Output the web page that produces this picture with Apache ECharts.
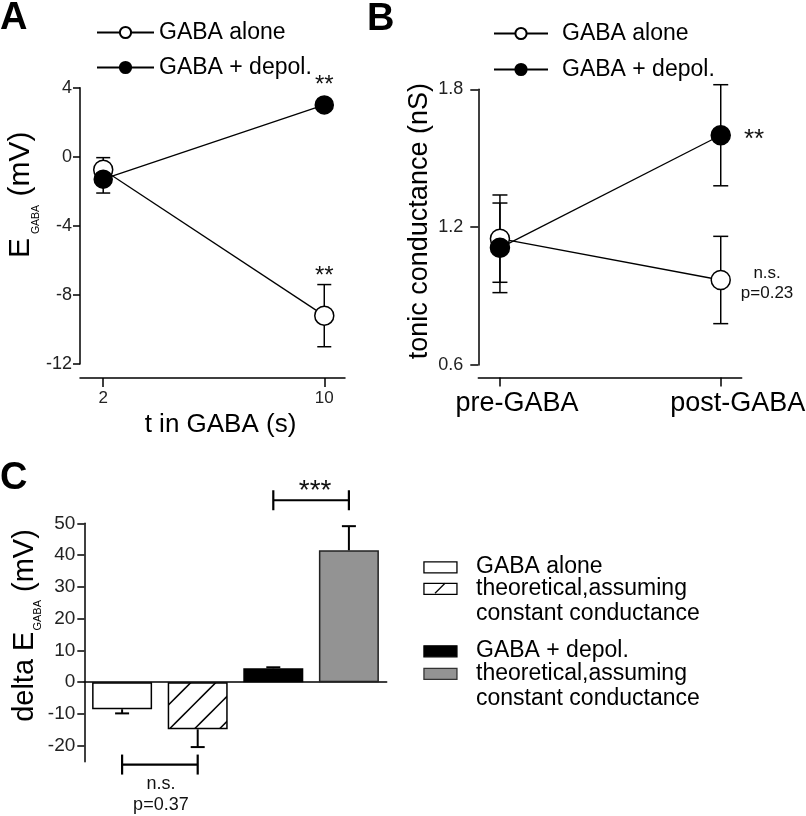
<!DOCTYPE html>
<html>
<head>
<meta charset="utf-8">
<script src="https://cdn.jsdelivr.net/npm/echarts@6/dist/echarts.min.js"></script>
<style>
html,body{margin:0;padding:0;background:#fff;}
#chart{width:806px;height:816px;}
</style>
</head>
<body>
<div id="chart"></div>
<script>
// ---------- Panel A data ----------
const timesA = [2, 10];
const xTicksA = [2, 10];
const aloneMeanA = [-0.75, -9.2];
const aloneSemA = [0.7, 1.8];
const depolMeanA = [-1.3, 3.0];
const depolSemA = [0.8, 0.3];
const starPosA = [[10, 4.13], [10, -6.91]];
const starTextA = ['**', '**'];

// ---------- Panel B data ----------
const conditionsB = ['pre-GABA', 'post-GABA'];
const condPosB = [0, 1];
const aloneMeanB = [1.15, 0.97];
const aloneSemB = [0.19, 0.19];
const depolMeanB = [1.11, 1.60];
const depolSemB = [0.195, 0.22];
const notePosB = [[1.151, 1.578], [1.21, 0.9575]];
const noteTextB = ['**', 'n.s.\np=0.23'];

// ---------- Panel C data ----------
const groupsC = ['GABA alone', 'theoretical (GABA alone)', 'GABA + depol.', 'theoretical (GABA + depol.)'];
const deltaMeanC = [-8.5, -14.8, 4.4, 41.5];
const deltaSemC = [1.3, 5.6, 0.3, 7.6];
const yTicksC = [-20, -10, 0, 10, 20, 30, 40, 50];
const bracketsC = [[0, 1, -25.9], [2, 3, 57.25]];
const bracketTextC = ['n.s.\np=0.37', '***'];
const legendTextC = ['GABA alone', 'theoretical,assuming\nconstant conductance', 'GABA + depol.', 'theoretical,assuming\nconstant conductance'];

const FONT = 'Liberation Sans, Arial, Helvetica, sans-serif';

// hatch pattern
function makeHatch() {
  const c = document.createElement('canvas');
  c.width = 25; c.height = 25;
  const ctx = c.getContext('2d');
  ctx.fillStyle = '#fff';
  ctx.fillRect(0, 0, 25, 25);
  ctx.strokeStyle = '#000';
  ctx.lineWidth = 1.5;
  for (let k = -1; k <= 1; k++) {
    const s = 23.4 + 25 * k;
    ctx.beginPath();
    ctx.moveTo(-5, s + 5);
    ctx.lineTo(s + 5, -5);
    ctx.stroke();
  }
  return c;
}
const hatch = { image: makeHatch(), repeat: 'repeat' };

const barStylesC = [
  { color: '#fff', borderColor: '#000', borderWidth: 1.5 },
  { color: hatch, borderColor: '#000', borderWidth: 1.5 },
  { color: '#000', borderColor: '#000', borderWidth: 1.5 },
  { color: '#939393', borderColor: '#222', borderWidth: 1.5 }
];

function errRender(capW, lw, capLow) {
  return function (params, api) {
    const x = api.value(0);
    const p1 = api.coord([x, api.value(1)]);
    const p2 = api.coord([x, api.value(2)]);
    const st = { stroke: '#000', lineWidth: lw, fill: null };
    const h = capW / 2;
    const ch = [
      { type: 'line', shape: { x1: p1[0], y1: p1[1], x2: p2[0], y2: p2[1] }, style: st },
      { type: 'line', shape: { x1: p2[0] - h, y1: p2[1], x2: p2[0] + h, y2: p2[1] }, style: st }
    ];
    if (capLow) ch.push({ type: 'line', shape: { x1: p1[0] - h, y1: p1[1], x2: p1[0] + h, y2: p1[1] }, style: st });
    return { type: 'group', children: ch };
  };
}
function textRender(texts, fontSize, lineHeight) {
  return function (params, api) {
    const p = api.coord([api.value(0), api.value(1)]);
    return {
      type: 'text', x: p[0], y: p[1],
      style: { text: texts[params.dataIndex], fontSize: fontSize, lineHeight: lineHeight, fontFamily: FONT, fill: '#111', align: 'center', verticalAlign: 'middle' }
    };
  };
}

const errA = [];
aloneMeanA.forEach((m, i) => errA.push([timesA[i], m - aloneSemA[i], m + aloneSemA[i]]));
depolMeanA.forEach((m, i) => errA.push([timesA[i], m - depolSemA[i], m + depolSemA[i]]));
const errB = [];
aloneMeanB.forEach((m, i) => errB.push([condPosB[i], m - aloneSemB[i], m + aloneSemB[i]]));
depolMeanB.forEach((m, i) => errB.push([condPosB[i], m - depolSemB[i], m + depolSemB[i]]));
const errC = deltaMeanC.map((m, i) => [i, m, m + Math.sign(m) * deltaSemC[i]]);

const axisLineStyle = { color: '#000', width: 1.5 };
const tickStyle = { color: '#000', width: 1.5 };

const openMarker = { color: '#fff', borderColor: '#000', borderWidth: 1.5 };
const filledMarker = { color: '#000', borderColor: '#000', borderWidth: 1.5 };
const connLine = { color: '#000', width: 1.3 };

const option = {
  animation: false,
  textStyle: { fontFamily: FONT, color: '#000' },
  title: [
    { text: 'A', left: 0, top: 0, padding: 0, textStyle: { fontSize: 38, fontWeight: 'bold', color: '#000', fontFamily: FONT } },
    { text: 'B', left: 367, top: 1, padding: 0, textStyle: { fontSize: 38, fontWeight: 'bold', color: '#000', fontFamily: FONT } },
    { text: 'C', left: 0, top: 460, padding: 0, textStyle: { fontSize: 38, fontWeight: 'bold', color: '#000', fontFamily: FONT } }
  ],
  legend: [
    {
      left: 96, top: 21, padding: 0, orient: 'vertical', itemWidth: 57, itemHeight: 14, itemGap: 12,
      selectedMode: false, data: ['GABA alone', 'GABA + depol.'],
      textStyle: { fontSize: 23, lineHeight: 22, color: '#000', fontFamily: FONT }
    },
    {
      left: 493, top: 22, padding: 0, orient: 'vertical', itemWidth: 54, itemHeight: 14, itemGap: 13,
      selectedMode: false, data: ['GABA alone', 'GABA + depol.'],
      formatter: n => '{p|}' + n,
      textStyle: { fontSize: 23, lineHeight: 22, color: '#000', fontFamily: FONT, rich: { p: { width: 9 } } }
    }
  ],
  grid: [
    { left: 80, top: 87.7, width: 265, height: 276.3 },
    { left: 478.3, top: 89.3, width: 263.4, height: 275.7 },
    { left: 84.3, top: 523.3, width: 302.4, height: 238.4 }
  ],
  xAxis: [
    {
      gridIndex: 0, type: 'value', min: 1.16, max: 10.75, offset: 14,
      axisLine: { onZero: false, lineStyle: axisLineStyle },
      axisTick: { customValues: xTicksA, length: 9, lineStyle: tickStyle },
      axisLabel: { customValues: xTicksA, margin: 12, fontSize: 17, color: '#222' },
      splitLine: { show: false },
      name: 't in GABA (s)', nameLocation: 'middle', nameGap: 34,
      nameTextStyle: { fontSize: 26, color: '#000', padding: [0, 0, 0, 16] }
    },
    {
      gridIndex: 1, type: 'value', min: -0.098, max: 1.095, offset: 12.4,
      axisLine: { onZero: false, lineStyle: axisLineStyle },
      axisTick: { customValues: condPosB, length: 9, lineStyle: tickStyle },
      axisLabel: { show: false },
      splitLine: { show: false }
    },
    {
      gridIndex: 2, type: 'category', data: groupsC,
      axisLine: { onZero: true, lineStyle: axisLineStyle },
      axisTick: { show: false }, axisLabel: { show: false }, splitLine: { show: false }
    }
  ],
  yAxis: [
    {
      gridIndex: 0, type: 'value', min: -12, max: 4, interval: 4,
      axisLine: { show: true, onZero: false, lineStyle: axisLineStyle },
      axisTick: { show: true, length: 7, lineStyle: tickStyle },
      axisLabel: { margin: 8, fontSize: 18, color: '#222' },
      splitLine: { show: false },
      name: '{e|E}{s|GABA}{e| (mV)}', nameLocation: 'middle', nameGap: 34,
      nameTextStyle: {
        fontSize: 30, color: '#000', padding: [0, 0, 0, 62],
        rich: {
          e: { fontSize: 30, verticalAlign: 'top', fontFamily: FONT, color: '#000' },
          s: { fontSize: 10.5, verticalAlign: 'top', padding: [25, 0, 0, 4], fontFamily: FONT, color: '#000' }
        }
      }
    },
    {
      gridIndex: 1, type: 'value', min: 0.6, max: 1.8, interval: 0.6,
      axisLine: { show: true, onZero: false, lineStyle: axisLineStyle },
      axisTick: { show: true, length: 8, lineStyle: tickStyle },
      axisLabel: { margin: 15, fontSize: 18, color: '#222', formatter: v => v.toFixed(1) },
      splitLine: { show: false },
      name: 'tonic conductance (nS)', nameLocation: 'middle', nameGap: 45,
      nameTextStyle: { fontSize: 27, color: '#000', padding: [0, 0, 0, 12] }
    },
    {
      gridIndex: 2, type: 'value', min: -25, max: 50,
      axisLine: { show: true, onZero: false, lineStyle: axisLineStyle },
      axisTick: { show: true, customValues: yTicksC, length: 7, lineStyle: tickStyle },
      axisLabel: { customValues: yTicksC, margin: 9, fontSize: 19, color: '#222' },
      splitLine: { show: false },
      name: '{t|delta E}{s|GABA}{t| (mV)}', nameLocation: 'middle', nameGap: 40,
      nameTextStyle: {
        fontSize: 29, color: '#000', padding: [0, 0, 0, 34],
        rich: {
          t: { fontSize: 29, verticalAlign: 'top', fontFamily: FONT, color: '#000' },
          s: { fontSize: 11, verticalAlign: 'top', padding: [22, 0, 0, 1], fontFamily: FONT, color: '#000' }
        }
      }
    }
  ],
  series: [
    // Panel A
    { type: 'custom', name: 'errA', xAxisIndex: 0, yAxisIndex: 0, data: errA, renderItem: errRender(14, 1.5, true), z: 1, silent: true },
    { type: 'line', name: 'GABA alone', xAxisIndex: 0, yAxisIndex: 0,
      data: timesA.map((t, i) => [t, aloneMeanA[i]]),
      symbol: 'circle', symbolSize: 19, itemStyle: openMarker, lineStyle: connLine, z: 3 },
    { type: 'line', name: 'GABA + depol.', xAxisIndex: 0, yAxisIndex: 0,
      data: timesA.map((t, i) => [t, depolMeanA[i]]),
      symbol: 'circle', symbolSize: 18, itemStyle: filledMarker, lineStyle: connLine, z: 4 },
    { type: 'custom', name: 'starsA', xAxisIndex: 0, yAxisIndex: 0, data: starPosA, renderItem: textRender(starTextA, 24, 24), z: 5, silent: true },
    // Panel B
    { type: 'custom', name: 'errB', xAxisIndex: 1, yAxisIndex: 1, data: errB, renderItem: errRender(15, 1.5, true), z: 1, silent: true },
    { type: 'line', name: 'GABA alone', xAxisIndex: 1, yAxisIndex: 1,
      data: condPosB.map((x, i) => [x, aloneMeanB[i]]),
      symbol: 'circle', symbolSize: 19, itemStyle: openMarker, lineStyle: connLine, z: 3 },
    { type: 'line', name: 'GABA + depol.', xAxisIndex: 1, yAxisIndex: 1,
      data: condPosB.map((x, i) => [x, depolMeanB[i]]),
      symbol: 'circle', symbolSize: 19, itemStyle: filledMarker, lineStyle: connLine, z: 4 },
    { type: 'custom', name: 'notesB', xAxisIndex: 1, yAxisIndex: 1, data: notePosB,
      renderItem: function (params, api) {
        const p = api.coord([api.value(0), api.value(1)]);
        const star = noteTextB[params.dataIndex] === '**';
        return { type: 'text', x: p[0], y: p[1], style: {
          text: noteTextB[params.dataIndex], fontSize: star ? 26 : 17, lineHeight: 20,
          fontFamily: FONT, fill: '#111', align: 'center', verticalAlign: 'middle' } };
      }, z: 5, silent: true },
    // Panel B category labels (placed under the ticks through the axis scale)
    { type: 'custom', name: 'labelsB', xAxisIndex: 1, yAxisIndex: 1,
      data: condPosB.map(x => [x, 0.6]),
      renderItem: function (params, api) {
        const p = api.coord([api.value(0), api.value(1)]);
        return { type: 'text', x: p[0] + 17, y: p[1] + 25, style: {
          text: conditionsB[params.dataIndex], fontSize: 27, fontFamily: FONT, fill: '#000',
          align: 'center', verticalAlign: 'top' } };
      }, z: 5, silent: true },
    // Panel C
    { type: 'bar', name: 'delta EGABA', xAxisIndex: 2, yAxisIndex: 2, barWidth: 60,
      data: deltaMeanC.map((v, i) => ({ value: v, itemStyle: barStylesC[i] })), z: 2, silent: true },
    { type: 'custom', name: 'errC', xAxisIndex: 2, yAxisIndex: 2, data: errC, renderItem: errRender(14, 2, false), z: 3, silent: true },
    { type: 'custom', name: 'bracketsC', xAxisIndex: 2, yAxisIndex: 2, data: bracketsC,
      renderItem: function (params, api) {
        const a = api.coord([api.value(0), api.value(2)]);
        const b = api.coord([api.value(1), api.value(2)]);
        const st = { stroke: '#000', lineWidth: 2.2, fill: null };
        const txt = bracketTextC[params.dataIndex];
        const star = txt === '***';
        return { type: 'group', children: [
          { type: 'line', shape: { x1: a[0], y1: a[1], x2: b[0], y2: b[1] }, style: st },
          { type: 'line', shape: { x1: a[0], y1: a[1] - 10, x2: a[0], y2: a[1] + 10 }, style: st },
          { type: 'line', shape: { x1: b[0], y1: b[1] - 10, x2: b[0], y2: b[1] + 10 }, style: st },
          { type: 'text', x: (a[0] + b[0]) / 2 + (star ? 4 : 1), y: a[1] + (star ? -9 : 30), style: {
            text: txt, fontSize: star ? 28 : 18, lineHeight: 21, fontFamily: FONT, fill: '#111', align: 'center', verticalAlign: 'middle' } }
        ] };
      }, z: 5, silent: true }
  ],
  graphic: (function () {
    const rows = [566.7, 588.3, 650.7, 673.3];
    const els = [];
    const fills = ['#fff', '#fff', '#000', '#939393'];
    rows.forEach((cy, i) => {
      els.push({ type: 'rect', left: 423.3, top: cy - 5.5, shape: { width: 33, height: 11 },
        style: { fill: fills[i], stroke: i === 3 ? '#333' : '#000', lineWidth: 1.3 }, silent: true });
      if (i === 1) {
        els.push({ type: 'line', shape: { x1: 435, y1: cy + 5, x2: 445, y2: cy - 5 }, style: { stroke: '#000', lineWidth: 1.3 }, silent: true });
      }
      els.push({ type: 'text', x: 476, y: cy - 12.75, style: { text: legendTextC[i], fontSize: 23, lineHeight: 25.5,
        fontFamily: FONT, fill: '#000', verticalAlign: 'top', align: 'left' }, silent: true });
    });
    return els;
  })()
};

const chart = echarts.init(document.getElementById('chart'), null, { renderer: 'canvas' });
chart.setOption(option);
</script>
</body>
</html>
